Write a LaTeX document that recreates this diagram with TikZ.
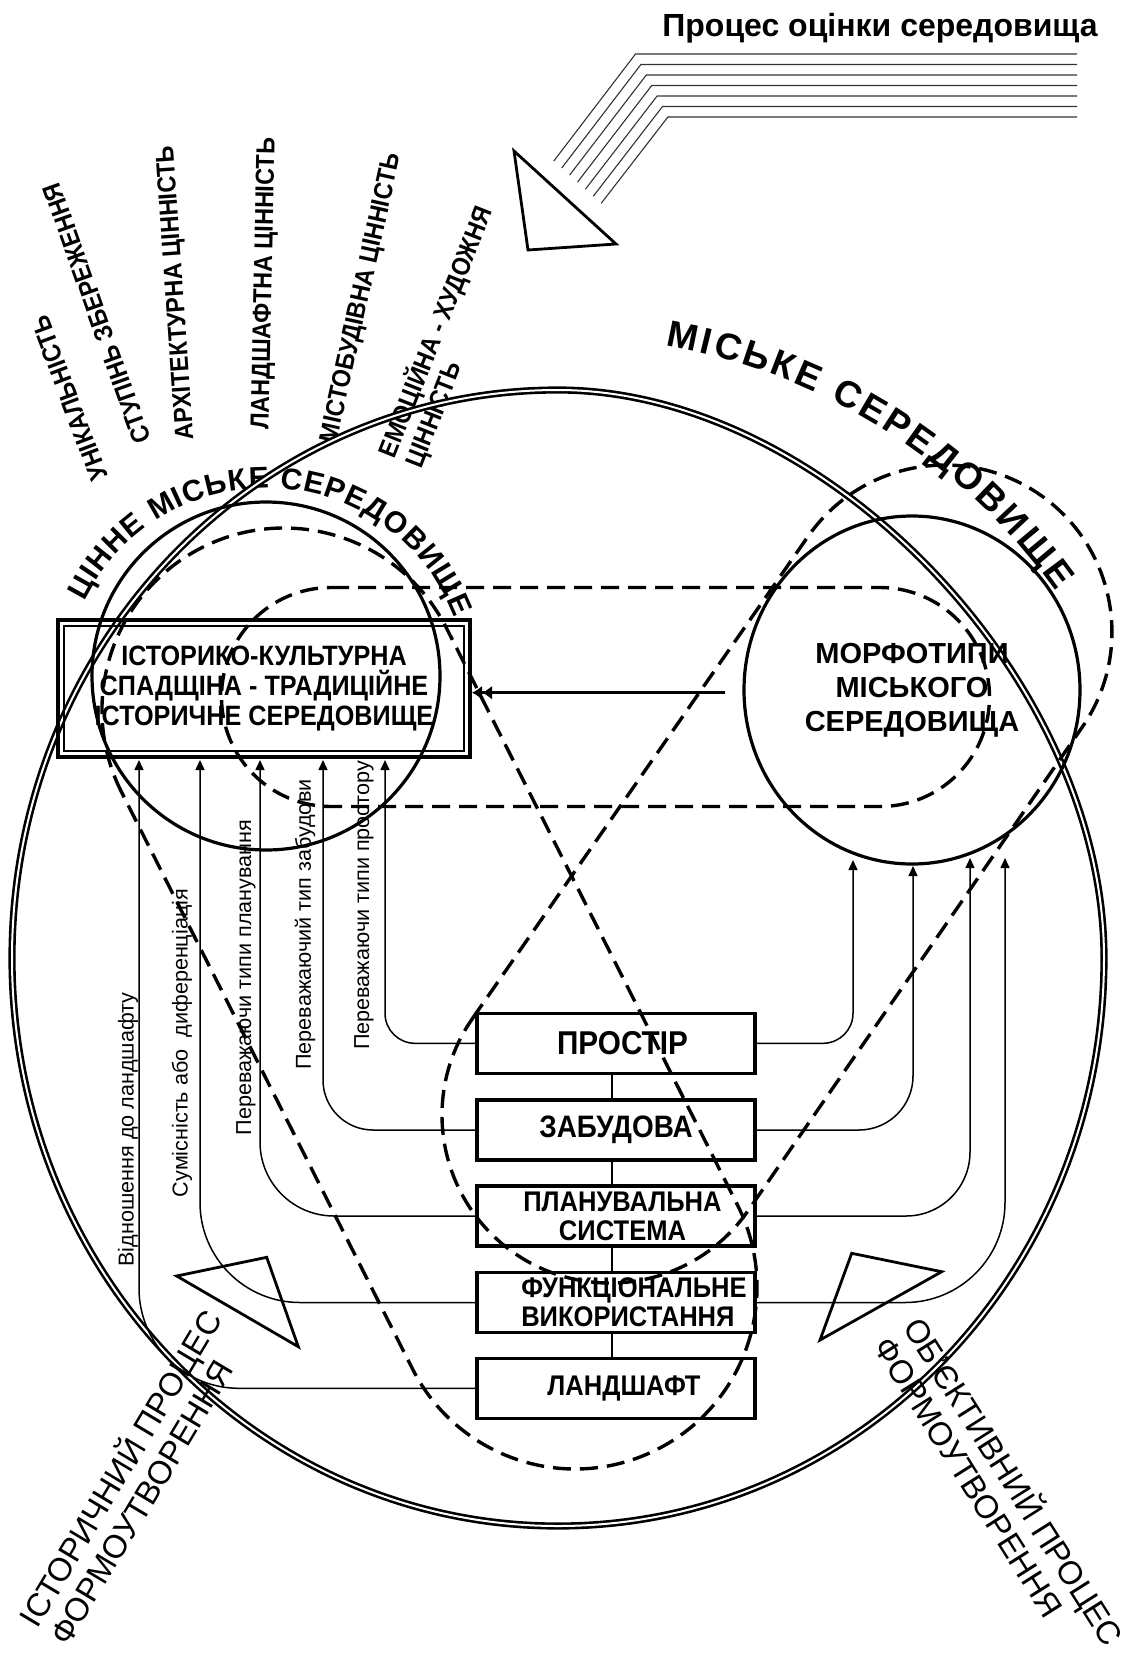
\documentclass[tikz,border=0pt]{standalone}
\usepackage{fontspec}
\setmainfont{Liberation Sans}
\newfontfamily\narrowfont{Liberation Sans}[FakeStretch=0.9]
\usetikzlibrary{arrows.meta,decorations.text,shapes.geometric}
\begin{document}
\begin{tikzpicture}[x=0.5pt,y=-0.5pt,
  dashline/.style={line width=1.7pt, dash pattern=on 9pt off 4.5pt},
  solidc/.style={line width=1.6pt},
  conn/.style={line width=0.75pt},
  tipa/.style={-{Triangle[length=5pt,width=4.5pt]}},
  tri/.style={line width=1.4pt, line join=miter},
  rays/.style={line width=0.55pt, black!80},
  boxnode/.style={draw, line width=1.7pt, minimum width=139pt, minimum height=30pt, inner sep=0pt, align=center, font=\narrowfont\bfseries\fontsize{14.2}{14.5}\selectfont},
  toplabel/.style={inner sep=0pt, font=\narrowfont\bfseries\fontsize{13}{14.2}\selectfont},
  vlabel/.style={inner sep=0pt, rotate=90, font=\fontsize{10.8}{12}\selectfont},
  proclabel/.style={inner sep=0pt, align=left, anchor=base west, font=\fontsize{16.3}{17.7}\selectfont}
]
\fill[white] (0,0) rectangle (1134,1654);
\useasboundingbox (0,0) rectangle (1134,1654);

% title and rays
\node[inner sep=0pt, anchor=base, font=\bfseries\fontsize{16}{16}\selectfont] (title) at (880,36) {Процес оцінки середовища};
\foreach \i in {0,...,6}
  \draw[rays] ({553.8+7.9*\i},{161+7.05*\i}) -- ({635.5+5.4*\i},{54+10.5*\i}) -- (1077,{54+10.5*\i});
\draw[tri] (514,151) -- (528,250) -- (616,244) -- cycle;

% top labels
\node[toplabel, anchor=west, rotate=110.6] (t1) at (100,480) {УНІКАЛЬНІСТЬ};
\node[toplabel, anchor=west, rotate=109.6] (t2) at (143,443) {СТУПІНЬ ЗБЕРЕЖЕННЯ};
\node[toplabel, anchor=west, rotate=94] (t3) at (187,440) {АРХІТЕКТУРНА ЦІННІСТЬ};
\node[toplabel, anchor=west, rotate=88.8] (t4) at (262,430) {ЛАНДШАФТНА ЦІННІСТЬ};
\node[toplabel, anchor=west, rotate=77.5] (t5) at (330,443) {МІСТОБУДІВНА ЦІННІСТЬ};
\node[toplabel, anchor=base west, align=left, rotate=68.4] (t6) at (421,470) {ЕМОЦІЙНА - ХУДОЖНЯ\\ЦІННІСТЬ};

% curved titles
\path[decorate, decoration={text along path, text align={fit to path},
  text={|\bfseries\fontsize{18.5}{18.5}\selectfont|МІСЬКЕ СЕРЕДОВИЩЕ}}]
  (560,945) ++(280:609) arc[start angle=280, end angle=324.5, radius=609];
\path[decorate, decoration={text along path, text align={fit to path},
  text={|\bfseries\fontsize{15}{15}\selectfont|ЦІННЕ МІСЬКЕ СЕРЕДОВИЩЕ}}]
  (266,690) ++(206:202) arc[start angle=206, end angle=339, radius=202];

% big double outline (slightly flattened at upper right)
\draw[line width=1.3pt, double, double distance=1pt]
  (558,390) .. controls (825.5,390) and (1104,679.7) .. (1104,958)
  arc[start angle=0, end angle=180, x radius=546, y radius=568]
  arc[start angle=180, end angle=270, x radius=546, y radius=568] -- cycle;

% left solid circle
\draw[solidc] (266,676) circle[radius=174];

% dashed shapes
\draw[dashline] (331,587.5) -- (880,587.5) arc[start angle=-90, end angle=90, radius=109.5]
  -- (331,806.5) arc[start angle=90, end angle=270, radius=109.5] -- cycle;
\draw[dashline] (121.5,792) arc[start angle=153.23, end angle=333.23, radius=182]
  -- (737.5,1205) arc[start angle=-26.77, end angle=153.23, radius=182] -- cycle;
\draw[dashline] (472.1,1019) -- (807.9,536.6) arc[start angle=214.85, end angle=394.64, radius=167]
  -- (748.2,1210.5) arc[start angle=34.64, end angle=214.85, radius=168] -- cycle;

% left double box
\node[draw, line width=2pt, minimum width=206pt, minimum height=68.5pt, inner sep=0pt, align=center,
  font=\narrowfont\bfseries\fontsize{14}{14.8}\selectfont] (lb) at (264,688.5)
  {ІСТОРИКО-КУЛЬТУРНА\\СПАДЩІНА - ТРАДИЦІЙНЕ\\ІСТОРИЧНЕ СЕРЕДОВИЩЕ};
\draw[line width=1pt] ([shift={(8,8)}]lb.north west) rectangle ([shift={(-8,-8)}]lb.south east);

% right circle
\node[draw, ellipse, line width=1.6pt, minimum width=168pt, minimum height=174pt, inner sep=0pt, align=center,
  font=\bfseries\fontsize{14.5}{16.9}\selectfont] (mc) at (912,690) {МОРФОТИПИ\\МІСЬКОГО\\СЕРЕДОВИЩА};

% horizontal double arrow
\coordinate (hs) at (725,692.7);
\draw[line width=1.5pt, -{Latex[length=5pt,width=7pt] Latex[length=5pt,width=7pt]}] (hs) -- (hs -| lb.east);

% boxes
\node[boxnode, font=\narrowfont\bfseries\fontsize{16.5}{16.5}\selectfont] (pr) at (616,1043.3) {\hspace*{6.5pt}ПРОСТІР};
\node[boxnode, font=\narrowfont\bfseries\fontsize{15.5}{15.5}\selectfont] (zb) at (616,1130) {ЗАБУДОВА};
\node[boxnode] (pl) at (616,1216) {\hspace*{6.5pt}ПЛАНУВАЛЬНА\\\hspace*{6.5pt}СИСТЕМА};
\node[boxnode, align=left] (fv) at (616,1302.5) {\hspace*{18pt}ФУНКЦІОНАЛЬНЕ\\\hspace*{18pt}ВИКОРИСТАННЯ};
\node[boxnode] (ld) at (616,1388.3) {\hspace*{8pt}ЛАНДШАФТ};
\coordinate (vx) at (612,0);
\foreach \a/\b in {pr/zb, zb/pl, pl/fv, fv/ld}
  \draw[conn] (\a.south -| vx) -- (\b.north -| vx);

% left connectors
\coordinate (la1) at (139,760);
\coordinate (la2) at (200,760);
\coordinate (la3) at (260,760);
\coordinate (la4) at (323,760);
\coordinate (la5) at (385,760);
\draw[conn, tipa, rounded corners=15pt] (pr.west) -- (pr.west -| la5) -- (la5);
\draw[conn, tipa, rounded corners=25pt] (zb.west) -- (zb.west -| la4) -- (la4);
\draw[conn, tipa, rounded corners=37pt] (pl.west) -- (pl.west -| la3) -- (la3);
\draw[conn, tipa, rounded corners=50pt] (fv.west) -- (fv.west -| la2) -- (la2);
\draw[conn, tipa, rounded corners=50pt] (ld.west) -- (ld.west -| la1) -- (la1);

% right connectors
\coordinate (ra1) at (853,860);
\coordinate (ra2) at (913,866);
\coordinate (ra3) at (970,858);
\coordinate (ra4) at (1005,858);
\draw[conn, tipa, rounded corners=15pt] (pr.east) -- (pr.east -| ra1) -- (ra1);
\draw[conn, tipa, rounded corners=27pt] (zb.east) -- (zb.east -| ra2) -- (ra2);
\draw[conn, tipa, rounded corners=32pt] (pl.east) -- (pl.east -| ra3) -- (ra3);
\draw[conn, tipa, rounded corners=50pt] (fv.east) -- (fv.east -| ra4) -- (ra4);

% vertical labels
\node[vlabel] (v1) at (128,1129.5) {Відношення до ландшафту};
\node[vlabel] (v2) at (182,1043) {Сумісність або\ \ диференціація};
\node[vlabel] (v3) at (246,977.5) {Переважаючи типи планування};
\node[vlabel] (v4) at (305,924.5) {Переважаючий тип забудови};
\node[vlabel] (v5) at (364,905.5) {Переважаючи типи простору};

% bottom triangles
\draw[tri] (176.7,1276) -- (266.7,1257.3) -- (298.3,1346.7) -- cycle;
\draw[tri] (851.7,1253.3) -- (941.7,1271.7) -- (820,1340) -- cycle;

% process labels (anchor = baseline of the last line)
\node[proclabel, rotate=59.1] (hp) at (68,1648) {ІСТОРИЧНИЙ ПРОЦЕС\\ФОРМОУТВОРЕННЯ};
\node[proclabel, rotate=-57.7] (op) at (872,1346) {ОБ’ЄКТИВНИЙ ПРОЦЕС\\ФОРМОУТВОРЕННЯ};
\end{tikzpicture}
\end{document}
